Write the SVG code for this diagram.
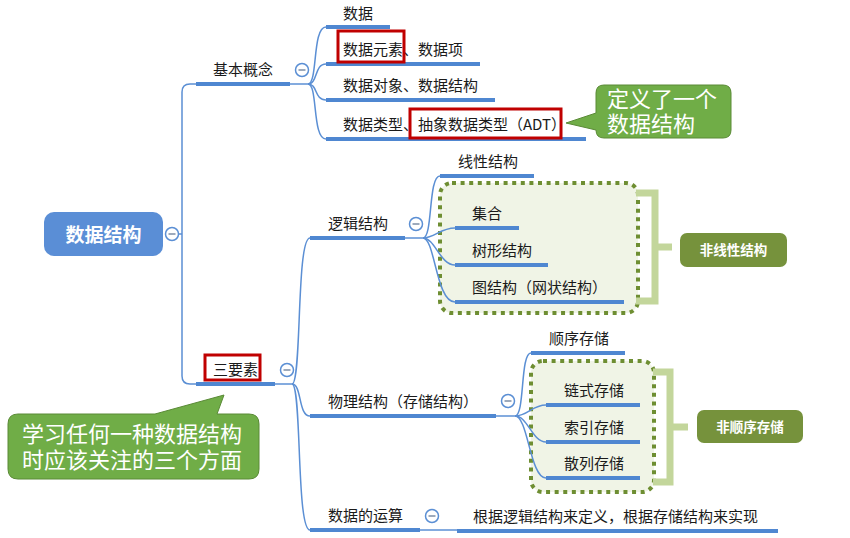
<svg xmlns="http://www.w3.org/2000/svg" width="850" height="538" viewBox="0 0 850 538">
<style>
.t{font-family:"Noto Sans CJK SC","Noto Sans",sans-serif;font-size:15px;fill:#1a1a1a}
.u{stroke:#4f87d1;stroke-width:4;fill:none}
.c{stroke:#5b8fd4;stroke-width:1.5;fill:none}
.col circle{fill:#fff;stroke:#5b8fd4;stroke-width:1.5}
.col line{stroke:#7d8ea6;stroke-width:1.5}
.red{fill:none;stroke:#c00000;stroke-width:3}
.dot{fill:#f0f4e6;stroke:#6e8e32;stroke-width:4;stroke-dasharray:4 4.6}
.br{fill:none;stroke:#c3d69b;stroke-width:7}
.gn{fill:#76923c}
.gt{font-family:"Noto Sans CJK SC",sans-serif;font-size:13.5px;font-weight:bold;fill:#fff;text-anchor:middle}
.call{fill:#70ad47;stroke:#5a8a36;stroke-width:1}
.ct{font-family:"Noto Sans CJK SC",sans-serif;font-size:22px;fill:#fff}
</style>
<defs>
<g id="minus" class="col"><circle cx="0" cy="0" r="6.5"/><line x1="-3.5" y1="0" x2="3.5" y2="0"/></g>
</defs>

<g id="connectors">
<path class="c" d="M178,234 H182"/>
<path class="c" d="M196,84 H190 Q182,84 182,92 V376 Q182,384 190,384 H196"/>
<path class="c" d="M290,84 H308"/>
<path class="c" d="M308,84 C318,84 312,27 326,27"/>
<path class="c" d="M308,84 C318,84 314,64 326,64"/>
<path class="c" d="M308,84 C318,84 314,100 326,100"/>
<path class="c" d="M308,84 C318,84 312,139 326,139"/>
<path class="c" d="M275,384 H292"/>
<path class="c" d="M292,384 C302,384 296,238 310,238"/>
<path class="c" d="M292,384 C302,384 298,416 310,416"/>
<path class="c" d="M292,384 C302,384 296,530 310,530"/>
<path class="c" d="M405,238 H423"/>
<path class="c" d="M496,416 H515"/>
<path class="c" d="M420,530 H457"/>
</g>

<g id="box-nonlinear">
<rect class="dot" x="440" y="183" width="198" height="130" rx="12"/>
<path class="br" d="M636,193 H655 V301 H636 M655,247 H672"/>
</g>
<g id="box-nonseq">
<rect class="dot" x="531" y="361" width="123" height="131" rx="12"/>
<path class="br" d="M653,372 H670 V482 H653 M670,427 H688"/>
</g>

<g id="connectors-inner">
<path class="c" d="M423,238 C433,238 428,176 440,176"/>
<path class="c" d="M423,238 C435,238 440,228 455,228"/>
<path class="c" d="M423,238 C435,238 440,265 455,265"/>
<path class="c" d="M423,238 C435,238 436,302 455,302"/>
<path class="c" d="M515,416 C525,416 520,353 531,353"/>
<path class="c" d="M515,416 C528,416 532,405 546,405"/>
<path class="c" d="M515,416 C528,416 532,442 546,442"/>
<path class="c" d="M515,416 C528,416 530,478 546,478"/>
</g>

<g id="root">
<rect x="44" y="212" width="119" height="44" rx="10" fill="#5a8ed6"/>
<text x="103.5" y="241.5" text-anchor="middle" font-family="Noto Sans CJK SC,sans-serif" font-size="19" font-weight="bold" fill="#fff">数据结构</text>
<use href="#minus" x="172" y="234"/>
</g>

<g id="n-jibengainian">
<line class="u" x1="196" y1="84" x2="290" y2="84"/>
<text class="t" x="213" y="75">基本概念</text>
<use href="#minus" x="302" y="70"/>
</g>
<g id="n-shuju">
<line class="u" x1="326" y1="27" x2="390" y2="27"/>
<text class="t" x="343" y="19">数据</text>
</g>
<g id="n-yuansu">
<line class="u" x1="326" y1="64" x2="480" y2="64"/>
<text class="t" x="343" y="55">数据元素、数据项</text>
<rect class="red" x="338" y="31" width="66" height="31"/>
</g>
<g id="n-duixiang">
<line class="u" x1="326" y1="100" x2="495" y2="100"/>
<text class="t" x="343" y="91">数据对象、数据结构</text>
</g>
<g id="n-leixing">
<line class="u" x1="326" y1="139" x2="586" y2="139"/>
<text class="t" x="343" y="130">数据类型、抽象数据类型（ADT）</text>
<rect class="red" x="410" y="109" width="151" height="29"/>
</g>

<g id="callout-adt">
<path class="call" d="M604,85 H723 Q731,85 731,93 V130 Q731,138 723,138 H604 Q596,138 596,130 V130 L566,123 L596,113 V93 Q596,85 604,85 Z"/>
<text class="ct" x="607" y="107">定义了一个<tspan x="607" dy="25">数据结构</tspan></text>
</g>

<g id="n-sanyaosu">
<line class="u" x1="196" y1="384" x2="275" y2="384"/>
<rect class="red" x="205" y="355" width="55" height="25"/>
<text class="t" x="213" y="375">三要素</text>
<use href="#minus" x="287" y="370"/>
</g>

<g id="callout-three">
<path class="call" d="M18,414 H155 L224,395 L217,414 H249 Q259,414 259,424 V469 Q259,479 249,479 H18 Q8,479 8,469 V424 Q8,414 18,414 Z"/>
<text class="ct" x="22" y="442">学习任何一种数据结构<tspan x="22" dy="26">时应该关注的三个方面</tspan></text>
</g>

<g id="n-luoji">
<line class="u" x1="310" y1="238" x2="405" y2="238"/>
<text class="t" x="328" y="229">逻辑结构</text>
<use href="#minus" x="416" y="224"/>
</g>
<g id="n-xianxing">
<line class="u" x1="440" y1="176" x2="534" y2="176"/>
<text class="t" x="458" y="167">线性结构</text>
</g>
<g id="n-jihe">
<line class="u" x1="455" y1="228" x2="519" y2="228"/>
<text class="t" x="472" y="219">集合</text>
</g>
<g id="n-shuxing">
<line class="u" x1="455" y1="265" x2="548" y2="265"/>
<text class="t" x="472" y="256">树形结构</text>
</g>
<g id="n-tu">
<line class="u" x1="455" y1="302" x2="624" y2="302"/>
<text class="t" x="472" y="293">图结构（网状结构）</text>
</g>
<g id="n-feixianxing">
<rect class="gn" x="680" y="233" width="107" height="34" rx="7"/>
<text class="gt" x="733.5" y="255">非线性结构</text>
</g>

<g id="n-wuli">
<line class="u" x1="310" y1="416" x2="496" y2="416"/>
<text class="t" x="328" y="407">物理结构（存储结构）</text>
<use href="#minus" x="508" y="401"/>
</g>
<g id="n-shunxu">
<line class="u" x1="531" y1="353" x2="625" y2="353"/>
<text class="t" x="549" y="344">顺序存储</text>
</g>
<g id="n-lianshi">
<line class="u" x1="546" y1="405" x2="640" y2="405"/>
<text class="t" x="564" y="396">链式存储</text>
</g>
<g id="n-suoyin">
<line class="u" x1="546" y1="442" x2="640" y2="442"/>
<text class="t" x="564" y="433">索引存储</text>
</g>
<g id="n-sanlie">
<line class="u" x1="546" y1="478" x2="640" y2="478"/>
<text class="t" x="564" y="469">散列存储</text>
</g>
<g id="n-feishunxu">
<rect class="gn" x="697" y="410" width="106" height="33" rx="7"/>
<text class="gt" x="750" y="432">非顺序存储</text>
</g>

<g id="n-yunsuan">
<line class="u" x1="310" y1="530" x2="420" y2="530"/>
<text class="t" x="328" y="521">数据的运算</text>
<use href="#minus" x="432" y="516"/>
</g>
<g id="n-yunsuan-desc">
<line class="u" x1="457" y1="531" x2="778" y2="531"/>
<text class="t" x="473" y="522">根据逻辑结构来定义，根据存储结构来实现</text>
</g>
</svg>
